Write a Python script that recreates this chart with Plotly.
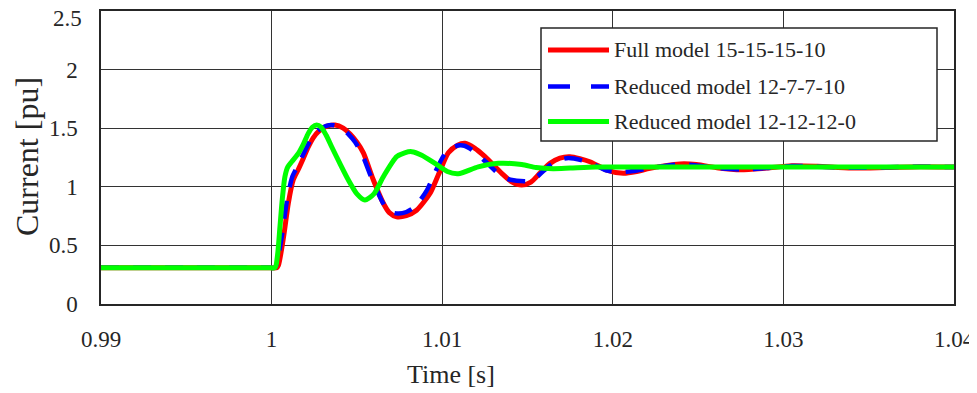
import plotly.graph_objects as go

# ---- data ----
t_full = [0.99, 0.995, 0.999, 0.9998, 1.0003, 1.0004, 1.0007, 1.00098, 1.00127, 1.00157, 1.00185, 1.00215, 1.00245,
          1.00274, 1.0032, 1.00372, 1.0042, 1.0046, 1.005, 1.00538, 1.00596, 1.00655, 1.0069,
          1.00733, 1.0079, 1.0085, 1.00929, 1.00977, 1.01036, 1.0109, 1.01134, 1.0119, 1.01251,
          1.01349, 1.0141, 1.01466, 1.0152, 1.01575, 1.01632, 1.0169, 1.01749, 1.01866, 1.01964,
          1.02062, 1.0214, 1.02218, 1.02394, 1.0249, 1.0262, 1.0275, 1.029, 1.0305, 1.032,
          1.034, 1.036, 1.038, 1.04]
i_full = [0.31, 0.31, 0.31, 0.31, 0.31, 0.33, 0.57, 0.86, 1.06, 1.15, 1.24, 1.34, 1.42,
          1.47, 1.515, 1.527, 1.50, 1.45, 1.38, 1.29, 1.06, 0.86, 0.78,
          0.745, 0.755, 0.80, 0.945, 1.10, 1.29, 1.355, 1.371, 1.33, 1.257,
          1.115, 1.04, 1.015, 1.04, 1.12, 1.20, 1.245, 1.257, 1.214, 1.143,
          1.115, 1.13, 1.158, 1.195, 1.19, 1.16, 1.145, 1.16, 1.18, 1.175,
          1.16, 1.165, 1.172, 1.168]

t_red1 = [0.99, 0.995, 0.999, 0.9998, 1.0002, 1.0003, 1.0006, 1.0009, 1.0012, 1.0015, 1.0018, 1.0021, 1.0024,
          1.0027, 1.0032, 1.00365, 1.0041, 1.0045, 1.0049, 1.0053, 1.0059, 1.0065, 1.0069,
          1.0074, 1.0079, 1.0084, 1.0091, 1.0096, 1.0102, 1.01075, 1.0113, 1.0119, 1.0125,
          1.0134, 1.0140, 1.01505, 1.0156, 1.0162, 1.0168, 1.0174, 1.0186, 1.0196, 1.0204,
          1.0212, 1.0222, 1.0238, 1.0248, 1.0262, 1.0275, 1.029, 1.0305, 1.032, 1.034,
          1.036, 1.038, 1.04]
i_red1 = [0.31, 0.31, 0.31, 0.31, 0.31, 0.34, 0.58, 0.88, 1.08, 1.17, 1.26, 1.35, 1.43,
          1.48, 1.52, 1.525, 1.50, 1.45, 1.38, 1.28, 1.06, 0.87, 0.79,
          0.772, 0.785, 0.83, 0.97, 1.13, 1.29, 1.345, 1.35, 1.30, 1.22,
          1.10, 1.06, 1.05, 1.09, 1.17, 1.225, 1.245, 1.21, 1.14, 1.125,
          1.135, 1.16, 1.19, 1.185, 1.16, 1.148, 1.16, 1.178, 1.172, 1.162,
          1.166, 1.171, 1.168]

t_red2 = [0.99, 0.995, 0.999, 0.9998, 1.0002, 1.00035, 1.00049, 1.00063, 1.00078, 1.00095, 1.00118, 1.00157, 1.00185,
          1.00215, 1.0024, 1.00264, 1.0029, 1.0032, 1.00352, 1.004, 1.0045, 1.005, 1.00547,
          1.006, 1.00655, 1.00733, 1.0078, 1.00821, 1.0088, 1.00958, 1.0103, 1.01094, 1.01211,
          1.01329, 1.01466, 1.0155, 1.0165, 1.0175, 1.019, 1.021, 1.025, 1.03, 1.035, 1.04]
i_red2 = [0.31, 0.31, 0.31, 0.31, 0.31, 0.42, 0.66, 0.90, 1.086, 1.17, 1.214, 1.286, 1.36,
          1.456, 1.51, 1.527, 1.51, 1.44, 1.342, 1.20, 1.058, 0.94, 0.887,
          0.94, 1.086, 1.257, 1.29, 1.30, 1.27, 1.20, 1.13, 1.112, 1.17,
          1.20, 1.19, 1.165, 1.155, 1.16, 1.168, 1.17, 1.168, 1.17, 1.168, 1.168]

names = ["Full model 15-15-15-10", "Reduced model 12-7-7-10", "Reduced model 12-12-12-0"]
colors = ["#ff0000", "#0000ff", "#00ff00"]
x_ticks = [0.99, 1.0, 1.01, 1.02, 1.03, 1.04]
x_tick_text = ["0.99", "1", "1.01", "1.02", "1.03", "1.04"]
y_ticks = [0, 0.5, 1, 1.5, 2, 2.5]
y_tick_text = ["0", "0.5", "1", "1.5", "2", "2.5"]

FONT = "Liberation Serif"
TXT = "#262626"

fig = go.Figure()
fig.add_trace(go.Scatter(x=t_full, y=i_full, mode="lines", name=names[0],
                         line=dict(color=colors[0], width=5, shape="spline", smoothing=0.7),
                         showlegend=False))
fig.add_trace(go.Scatter(x=t_red1, y=i_red1, mode="lines", name=names[1],
                         line=dict(color=colors[1], width=4.5, shape="spline", smoothing=0.7,
                                   dash="18px,14px"),
                         showlegend=False))
fig.add_trace(go.Scatter(x=t_red2, y=i_red2, mode="lines", name=names[2],
                         line=dict(color=colors[2], width=5, shape="spline", smoothing=0.7),
                         showlegend=False))

# page has an 8px body margin; figure is sized / placed to compensate
OFF = 8
W, H = 977 - OFF, 393 - OFF
L, R, T, B = 101, 954, 11, 304   # plot-area edges in page pixels
def px(x):
    return (x - L) / (R - L)
def py(y):
    return (B - y) / (B - T)

shapes = [dict(type="rect", xref="paper", yref="paper",
               x0=px(541), x1=px(937), y0=py(141), y1=py(28),
               line=dict(color=TXT, width=1.5), fillcolor="white", layer="above")]
annotations = []
rows = [50, 86.5, 121.5]
dashes = ["solid", "22px,21px", "solid"]
widths = [5, 4.5, 5]
for k in range(3):
    shapes.append(dict(type="line", xref="paper", yref="paper",
                       x0=px(548), x1=px(609), y0=py(rows[k]), y1=py(rows[k]),
                       line=dict(color=colors[k], width=widths[k], dash=dashes[k]),
                       layer="above"))
    annotations.append(dict(xref="paper", yref="paper", x=px(612), y=py(rows[k]),
                            text=names[k], showarrow=False, xanchor="left", yanchor="middle",
                            font=dict(family=FONT, size=22, color=TXT)))

annotations.append(dict(xref="paper", yref="paper", x=px(451), y=py(374),
                        text="Time [s]", showarrow=False, xanchor="center", yanchor="middle",
                        font=dict(family=FONT, size=26, color=TXT)))
annotations.append(dict(xref="paper", yref="paper", x=px(27), y=py(157), textangle=-90,
                        text="Current [pu]", showarrow=False, xanchor="center", yanchor="middle",
                        font=dict(family=FONT, size=32, color=TXT)))
# top y tick label sits at the very edge of the figure; draw it as an annotation so it is not dropped
annotations.append(dict(xref="paper", yref="y", x=px(83), y=y_ticks[-1],
                        text=y_tick_text[-1], showarrow=False, xanchor="right", yanchor="middle",
                        yshift=-7, height=18, valign="middle", borderpad=0,
                        font=dict(family=FONT, size=23, color=TXT)))
y_tick_text_axis = y_tick_text[:-1] + [""]

fig.update_layout(
    width=W, height=H,
    margin=dict(l=L - OFF, r=W - (R - OFF), t=T - OFF, b=H - (B - OFF), autoexpand=False),
    paper_bgcolor="white", plot_bgcolor="white",
    shapes=shapes, annotations=annotations,
    showlegend=False,
)
fig.update_xaxes(range=[0.99, 1.04], tickvals=x_ticks, ticktext=x_tick_text,
                 showgrid=True, gridcolor="#333333", gridwidth=1,
                 showline=True, linecolor=TXT, linewidth=1.5, mirror=True,
                 zeroline=False, ticks="", ticklabelstandoff=14, automargin=False,
                 tickfont=dict(family=FONT, size=23, color=TXT))
fig.update_yaxes(range=[0, 2.5], tickvals=y_ticks, ticktext=y_tick_text_axis,
                 showgrid=True, gridcolor="#333333", gridwidth=1,
                 showline=True, linecolor=TXT, linewidth=1.5, mirror=True,
                 zeroline=False, ticks="", ticklabelstandoff=17, automargin=False,
                 tickfont=dict(family=FONT, size=23, color=TXT))

fig.write_html("out.html")
